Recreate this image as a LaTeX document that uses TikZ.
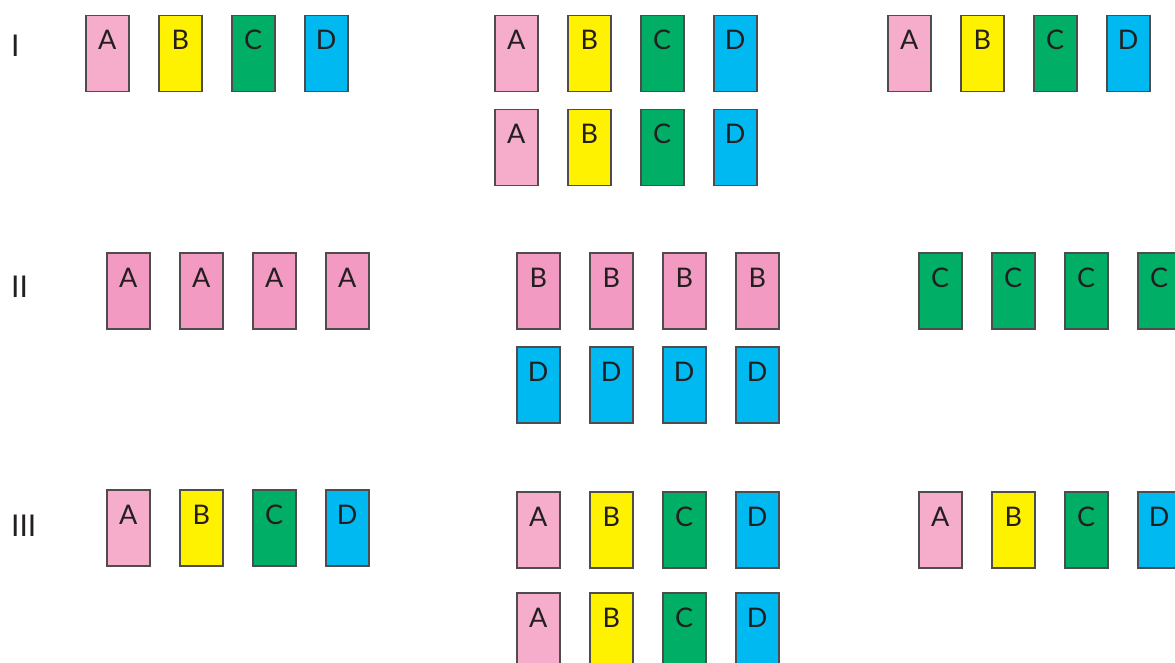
\documentclass[tikz,border=0pt]{standalone}
\usepackage{fontspec}
\setmainfont{Lato}
\definecolor{pinkL}{HTML}{F5ADCB}
\definecolor{pinkD}{HTML}{F39AC2}
\definecolor{yel}{HTML}{FFF200}
\definecolor{grn}{HTML}{00AE65}
\definecolor{blu}{HTML}{00B9F0}
\definecolor{ink}{HTML}{231F20}
\tikzset{
  card/.style={draw=ink!80, line width=1.5pt, minimum width=43pt, minimum height=76pt, inner sep=0pt, anchor=north west},
  letter/.style={anchor=base, text=ink, font=\fontsize{27}{27}\selectfont, inner sep=0pt},
  rowlabel/.style={anchor=base west, text=ink, font=\fontsize{30}{30}\selectfont, inner sep=0pt}
}
% \mycard{name}{x}{y}{fill}{letter}
\newcommand{\mycard}[5]{%
  \node[card, fill=#4] (#1) at (#2,#3) {};
  \node[letter] (#1t) at ([yshift=-35pt]#1.north) {#5};
}
\begin{document}
\begin{tikzpicture}[x=1pt,y=-1pt]
\useasboundingbox (0,0) rectangle (1175,663);
% row labels
\node[rowlabel] (l1) at (11,57) {I};
\node[rowlabel] (l2) at (11,297) {II};
\node[rowlabel] (l3) at (11,536) {III};
% Row I
\mycard{a1}{85}{15}{pinkL}{A}
\mycard{b1}{158}{15}{yel}{B}
\mycard{c1}{231}{15}{grn}{C}
\mycard{d1}{304}{15}{blu}{D}
\mycard{a2}{494}{15}{pinkL}{A}
\mycard{b2}{567}{15}{yel}{B}
\mycard{c2}{640}{15}{grn}{C}
\mycard{d2}{713}{15}{blu}{D}
\mycard{a3}{494}{109}{pinkL}{A}
\mycard{b3}{567}{109}{yel}{B}
\mycard{c3}{640}{109}{grn}{C}
\mycard{d3}{713}{109}{blu}{D}
\mycard{a4}{887}{15}{pinkL}{A}
\mycard{b4}{960}{15}{yel}{B}
\mycard{c4}{1033}{15}{grn}{C}
\mycard{d4}{1106}{15}{blu}{D}
% Row II
\mycard{e1}{106}{252}{pinkD}{A}
\mycard{e2}{179}{252}{pinkD}{A}
\mycard{e3}{252}{252}{pinkD}{A}
\mycard{e4}{325}{252}{pinkD}{A}
\mycard{f1}{516}{252}{pinkD}{B}
\mycard{f2}{589}{252}{pinkD}{B}
\mycard{f3}{662}{252}{pinkD}{B}
\mycard{f4}{735}{252}{pinkD}{B}
\mycard{g1}{516}{346}{blu}{D}
\mycard{g2}{589}{346}{blu}{D}
\mycard{g3}{662}{346}{blu}{D}
\mycard{g4}{735}{346}{blu}{D}
\mycard{h1}{918}{252}{grn}{C}
\mycard{h2}{991}{252}{grn}{C}
\mycard{h3}{1064}{252}{grn}{C}
\mycard{h4}{1137}{252}{grn}{C}
% Row III
\mycard{i1}{106}{489}{pinkL}{A}
\mycard{i2}{179}{489}{yel}{B}
\mycard{i3}{252}{489}{grn}{C}
\mycard{i4}{325}{489}{blu}{D}
\mycard{j1}{516}{491}{pinkL}{A}
\mycard{j2}{589}{491}{yel}{B}
\mycard{j3}{662}{491}{grn}{C}
\mycard{j4}{735}{491}{blu}{D}
\mycard{k1}{516}{592}{pinkL}{A}
\mycard{k2}{589}{592}{yel}{B}
\mycard{k3}{662}{592}{grn}{C}
\mycard{k4}{735}{592}{blu}{D}
\mycard{m1}{918}{491}{pinkL}{A}
\mycard{m2}{991}{491}{yel}{B}
\mycard{m3}{1064}{491}{grn}{C}
\mycard{m4}{1137}{491}{blu}{D}
\end{tikzpicture}
\end{document}
